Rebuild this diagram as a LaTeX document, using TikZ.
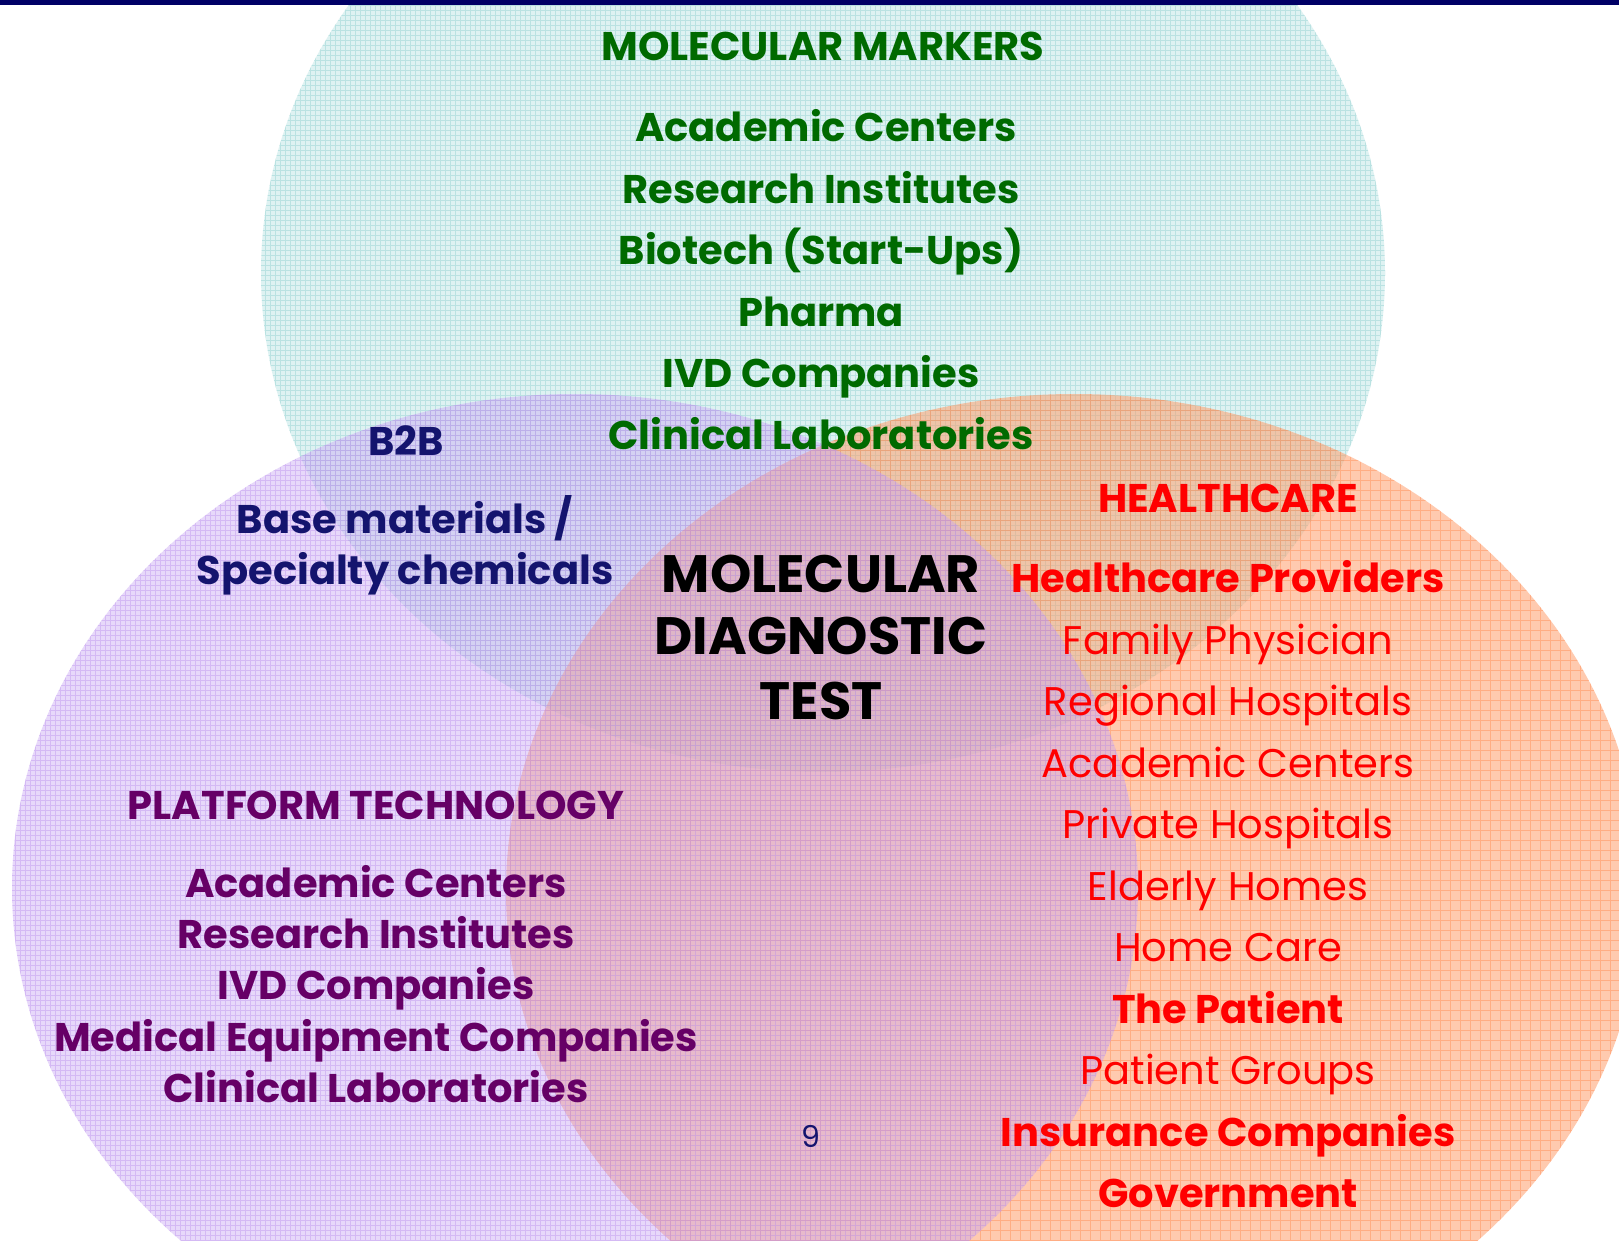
\documentclass[tikz,border=0pt]{standalone}
\usepackage{fontspec}
\setmainfont{Poppins}
\definecolor{barnavy}{HTML}{000066}
\definecolor{tealfill}{HTML}{BFE6E6}
\definecolor{tealline}{HTML}{8FCFCF}
\definecolor{purplefill}{HTML}{C8A4F4}
\definecolor{purpleline}{HTML}{B88CEB}
\definecolor{orangefill}{HTML}{FF9A66}
\definecolor{orangeline}{HTML}{FF7F40}
\definecolor{mkgreen}{HTML}{006A00}
\definecolor{btbnavy}{HTML}{14146E}
\definecolor{ptpurple}{HTML}{660066}
\definecolor{hcred}{HTML}{FF0000}
\tikzset{
  x=0.5pt, y=-0.5pt,
  lbl/.style={anchor=base, inner sep=0pt, font=\fontsize{20}{24}\selectfont\bfseries},
  greenlbl/.style={lbl, text=mkgreen},
  navylbl/.style={lbl, text=btbnavy},
  purplelbl/.style={lbl, text=ptpurple},
  redlbl/.style={lbl, text=hcred},
  redreg/.style={anchor=base, inner sep=0pt, text=hcred, font=\fontsize{20}{24}\selectfont},
  centerlbl/.style={anchor=base, inner sep=0pt, text=black, font=\fontsize{26.3}{31}\selectfont\bfseries},
}
\begin{document}
\begin{tikzpicture}
\useasboundingbox (0,0) rectangle (1619,1241);
\clip (0,0) rectangle (1619,1241);
\fill[white] (0,0) rectangle (1619,1241);
% teal ellipse
\fill[tealfill, fill opacity=0.5] (823,273) ellipse [x radius=562, y radius=499];
\begin{scope}
  \clip (823,273) ellipse [x radius=562, y radius=499];
  \draw[tealline, line width=0.3pt, draw opacity=0.45, step=2.5pt] (0,0) grid (1619,1241);
\end{scope}
% orange ellipse
\fill[orangefill, fill opacity=0.52] (1074,891) ellipse [x radius=568, y radius=497];
\begin{scope}
  \clip (1074,891) ellipse [x radius=568, y radius=497];
  \draw[orangeline, line width=0.4pt, draw opacity=0.38, step=5pt] (0,0) grid (1619,1241);
\end{scope}
% purple ellipse
\fill[purplefill, fill opacity=0.42] (575,888) ellipse [x radius=563, y radius=494];
\begin{scope}
  \clip (575,888) ellipse [x radius=563, y radius=494];
  \draw[purpleline, line width=0.3pt, draw opacity=0.4, step=2.5pt] (0,0) grid (1619,1241);
\end{scope}
% top bar
\fill[barnavy] (0,0) rectangle (1619,5);
% molecular markers
\node[greenlbl] (mm0) at (823,61) {MOLECULAR MARKERS};
\node[greenlbl] (mm1) at (826,142) {Academic Centers};
\node[greenlbl] (mm2) at (821,204) {Research Institutes};
\node[greenlbl] (mm3) at (821,265) {Biotech (Start-Ups)};
\node[greenlbl] (mm4) at (821,327) {Pharma};
\node[greenlbl] (mm5) at (821,388) {IVD Companies};
\node[greenlbl] (mm6) at (821,450) {Clinical Laboratories};
% B2B
\node[navylbl] (b0) at (406,456) {B2B};
\node[navylbl] (b1) at (405,533) {Base materials /};
\node[navylbl] (b2) at (405,584) {Specialty chemicals};
% center
\node[centerlbl] (c0) at (821,592) {MOLECULAR};
\node[centerlbl] (c1) at (821,654) {DIAGNOSTIC};
\node[centerlbl] (c2) at (821,719) {TEST};
% platform technology
\node[purplelbl] (p0) at (376,819) {PLATFORM TECHNOLOGY};
\node[purplelbl] (p1) at (376,897) {Academic Centers};
\node[purplelbl] (p2) at (376,948) {Research Institutes};
\node[purplelbl] (p3) at (376,999) {IVD Companies};
\node[purplelbl] (p4) at (376,1051) {Medical Equipment Companies};
\node[purplelbl] (p5) at (376,1102) {Clinical Laboratories};
% healthcare
\node[redlbl] (h0) at (1228,512) {HEALTHCARE};
\node[redlbl] (h1) at (1228,592) {Healthcare Providers};
\node[redreg] (h2) at (1228,654) {Family Physician};
\node[redreg] (h3) at (1228,715) {Regional Hospitals};
\node[redreg] (h4) at (1228,777) {Academic Centers};
\node[redreg] (h5) at (1228,838) {Private Hospitals};
\node[redreg] (h6) at (1228,900) {Elderly Homes};
\node[redreg] (h7) at (1228,961) {Home Care};
\node[redlbl] (h8) at (1228,1023) {The Patient};
\node[redreg] (h9) at (1228,1084) {Patient Groups};
\node[redlbl] (h10) at (1228,1146) {Insurance Companies};
\node[redlbl] (h11) at (1228,1207) {Government};
% page number
\node[anchor=base, inner sep=0pt, text=btbnavy, font=\fontsize{15}{18}\selectfont] (pg) at (811,1147) {9};
\end{tikzpicture}
\end{document}
